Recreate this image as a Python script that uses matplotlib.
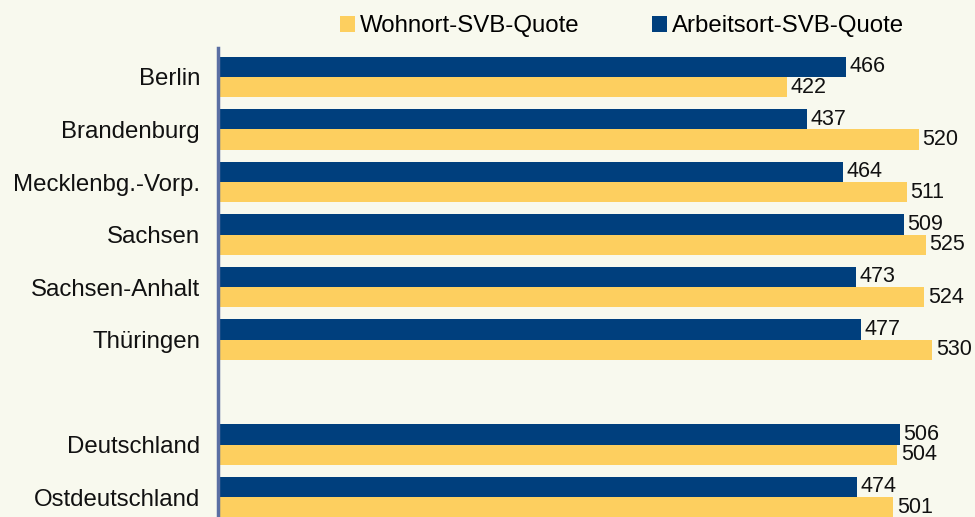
import matplotlib
matplotlib.use("Agg")
import matplotlib.pyplot as plt
from matplotlib.patches import Patch

plt.rcParams['font.family'] = ['Liberation Sans', 'DejaVu Sans']

categories = ["Berlin", "Brandenburg", "Mecklenbg.-Vorp.", "Sachsen", "Sachsen-Anhalt",
              "Thüringen", "", "Deutschland", "Ostdeutschland"]
arbeitsort = [466, 437, 464, 509, 473, 477, None, 506, 474]
wohnort = [422, 520, 511, 525, 524, 530, None, 504, 501]

NAVY = "#003F7D"
YELLOW = "#FDCF5F"
BG = "#F8F9EE"

fig = plt.figure(figsize=(9.75, 5.17), dpi=100, facecolor=BG)
W, H = 975, 517
ax = fig.add_axes([218 / W, 0, (975 - 218) / W, (517 - 48) / H])
ax.set_facecolor(BG)

bh = 0.39
for i, (a, w) in enumerate(zip(arbeitsort, wohnort)):
    if a is None:
        continue
    ax.barh(i - bh / 2, a, height=bh, color=NAVY, edgecolor='none')
    ax.barh(i + bh / 2, w, height=bh, color=YELLOW, edgecolor='none')
    ax.annotate(str(a), (a, i - bh / 2), xytext=(2.5, 0), textcoords='offset points',
                va='center', ha='left', fontsize=15.5, color='#111111')
    ax.annotate(str(w), (w, i + bh / 2), xytext=(2.5, 0), textcoords='offset points',
                va='center', ha='left', fontsize=15.5, color='#111111')

ax.set_xlim(0, 561.6)
ax.set_ylim(8.38, -0.552)
ax.set_yticks(range(len(categories)))
ax.set_yticklabels(categories, fontsize=17.3, color='#111111')
ax.tick_params(axis='y', length=0, pad=13)
ax.set_xticks([])
for s in ['top', 'right', 'bottom']:
    ax.spines[s].set_visible(False)
ax.spines['left'].set_color('#5B6FA3')
ax.spines['left'].set_linewidth(2.5)

handles = [Patch(facecolor=YELLOW, edgecolor='none', label='Wohnort-SVB-Quote'),
           Patch(facecolor=NAVY, edgecolor='none', label='Arbeitsort-SVB-Quote')]
fig.legend(handles=handles, loc='center', bbox_to_anchor=(622 / W, 1 - 26 / H), ncol=2,
           frameon=False, fontsize=17.3, handlelength=0.65, handleheight=0.65,
           handletextpad=0.2, columnspacing=3.0)

fig.savefig("out.png", dpi=100, facecolor=BG)
